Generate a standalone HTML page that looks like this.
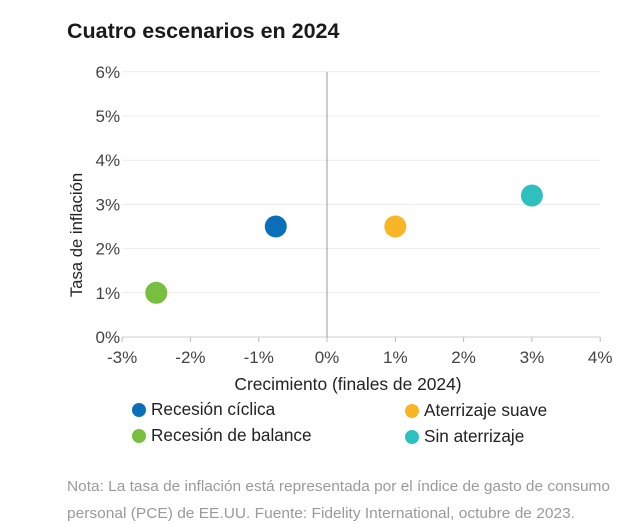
<!DOCTYPE html>
<html><head><meta charset="utf-8"><style>
body{margin:0;background:#fff;font-family:"Liberation Sans",sans-serif;}
svg{display:block}
</style></head><body>
<svg width="644" height="524" id="chart">
<text x="67" y="38" font-size="21.5" font-weight="bold" fill="#1a1a1a">Cuatro escenarios en 2024</text>
<g id="grid"></g><g id="ticks"></g><g id="points"></g>
<text transform="translate(82,235) rotate(-90)" text-anchor="middle" font-size="16.7" fill="#222">Tasa de inflación</text>
<text x="348" y="390" text-anchor="middle" font-size="17.4" fill="#222">Crecimiento (finales de 2024)</text>
<g font-size="17.2" fill="#222">
<circle cx="139" cy="410" r="7" fill="#0a6fb8"/>
<text x="151" y="415">Recesión cíclica</text>
<circle cx="139" cy="436" r="7" fill="#76bf3f"/>
<text x="151" y="441">Recesión de balance</text>
<circle cx="412" cy="411" r="7" fill="#f8b526"/>
<text x="424" y="416">Aterrizaje suave</text>
<circle cx="412" cy="437" r="7" fill="#2ebfbf"/>
<text x="424" y="442">Sin aterrizaje</text>
</g>
<text x="67" y="491" font-size="14.5" textLength="543" lengthAdjust="spacingAndGlyphs" fill="#9a9a9a">Nota: La tasa de inflación está representada por el índice de gasto de consumo</text>
<text x="67" y="518" font-size="14.5" textLength="508" lengthAdjust="spacingAndGlyphs" fill="#9a9a9a">personal (PCE) de EE.UU. Fuente: Fidelity International, octubre de 2023.</text>
</svg>
<script>
const names=["Recesión cíclica","Recesión de balance","Aterrizaje suave","Sin aterrizaje"];
const growth=[-0.75,-2.5,1.0,3.0];
const inflation=[2.5,1.0,2.5,3.2];
const colors=["#0a6fb8","#76bf3f","#f8b526","#2ebfbf"];
const xTicks=[-3,-2,-1,0,1,2,3,4];
const yTicks=[0,1,2,3,4,5,6];
const NS="http://www.w3.org/2000/svg";
const X=v=>327+(v)*68.3, Y=v=>337-v*44.2;
function mk(t,a,p){const e=document.createElementNS(NS,t);for(const k in a)e.setAttribute(k,a[k]);p.appendChild(e);return e;}
const g=document.getElementById('grid'),tk=document.getElementById('ticks'),pt=document.getElementById('points');
yTicks.forEach(v=>{
 const l=mk('line',{x1:X(-3),x2:X(4),y1:Y(v),y2:Y(v),stroke:v===0?'#cfcfcf':'#ececec','stroke-width':1},g);
 
 
 const t=mk('text',{x:X(-3)-2,y:Y(v)+6,'text-anchor':'end','font-size':17,fill:'#444'},tk);
 t.textContent=v+'%';
 
 
});
const z=mk('line',{x1:X(0),x2:X(0),y1:Y(6),y2:Y(0),stroke:'#999','stroke-width':1},g);


xTicks.forEach(v=>{
 const m=mk('line',{x1:X(v),x2:X(v),y1:Y(0),y2:Y(0)+5,stroke:'#bbb'},tk);
 
 
 const t=mk('text',{x:X(v),y:Y(0)+26,'text-anchor':'middle','font-size':17,fill:'#444'},tk);
 t.textContent=v+'%';
 
 
});
growth.forEach((v,i)=>{
 const c=mk('circle',{cx:X(v),cy:Y(inflation[i]),r:11,fill:colors[i]},pt);
 
 
});
</script>
</body></html>
